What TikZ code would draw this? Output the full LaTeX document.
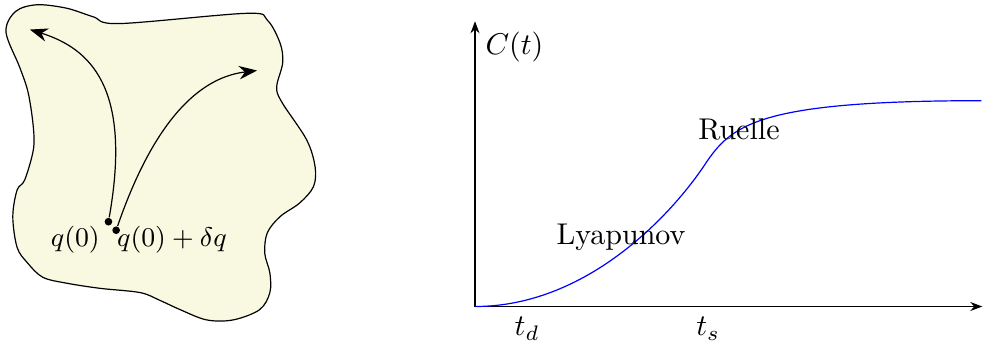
\documentclass[tikz,border=0pt]{standalone}
\usetikzlibrary{arrows.meta,calc,positioning}
\definecolor{blobfill}{RGB}{249,248,224}
\tikzset{
  axis/.style={-{Stealth[length=4pt]}},
  flow/.style={-{Stealth[length=6pt]}},
  curve/.style={blue},
  dot/.style={circle, fill, inner sep=0.9pt},
  region/.style={draw, fill=blobfill},
  qlabel/.style={inner sep=1pt, font=\small},
}
\begin{document}
\begin{tikzpicture}
  \useasboundingbox (0,0) rectangle (11.604,4.016);

  % Phase space region
  \draw[region] plot[smooth cycle, tension=0.55] coordinates {
    (0.07,3.64) (0.18,3.88) (0.43,3.96) (0.78,3.92) (1.09,3.82)
    (1.40,3.74) (2.89,3.86) (3.13,3.78) (3.28,3.51) (3.31,3.28)
    (3.24,3.00) (3.30,2.82) (3.59,2.38) (3.69,2.06) (3.67,1.83)
    (3.51,1.64) (3.28,1.48) (3.13,1.29) (3.10,1.05) (3.16,0.82)
    (3.16,0.59) (3.04,0.39) (2.73,0.27) (2.42,0.27) (2.11,0.39)
    (1.87,0.50) (1.64,0.59) (1.17,0.64) (0.78,0.70) (0.50,0.77)
    (0.32,0.94) (0.20,1.12) (0.15,1.48) (0.20,1.79) (0.29,1.91)
    (0.39,2.26) (0.39,2.53) (0.33,2.93) (0.23,3.23)
  };

  % Two nearby initial conditions and their trajectories
  \node[dot] (q0) at (1.27,1.42) {};
  \node[dot] (q1) at (1.36,1.32) {};
  \coordinate (q0end) at (0.35,3.67);
  \coordinate (q1end) at (3.01,3.19);
  \draw[flow] (q0) .. controls (1.55,3.0) and (1.05,3.45) .. (q0end);
  \draw[flow] (q1) .. controls (1.75,2.45) and (2.25,3.1) .. (q1end);
  \node[qlabel, anchor=east] (q0lab) at (1.21,1.21) {$q(0)$};
  \node[qlabel, anchor=west] (q1lab) at (1.33,1.21) {$q(0)+\delta q$};

  % Growth of C(t)
  \begin{scope}[shift={(5.562,0.427)}]
    \coordinate (O) at (0,0);
    \coordinate (tmax) at (5.94,0);
    \coordinate (Cmax) at (0,3.34);
    \draw[axis] (O) -- (tmax);
    \draw[axis] (O) -- (Cmax) node[below right] (Clab) {$C(t)$};
    \draw[curve] (O) .. controls (1.3,0) and (2.29,1.06) .. (2.69,1.66)
      .. controls (3.0,2.125) and (3.3,2.41) .. (5.93,2.41);
    \node (td) [below] at (0.61,0) {$t_d$};
    \node (ts) [below] at (2.73,0) {$t_s$};
    \node (lyap) at (1.71,0.81) {Lyapunov};
    \node (ruelle) at (3.09,2.07) {Ruelle};
  \end{scope}
\end{tikzpicture}
\end{document}
